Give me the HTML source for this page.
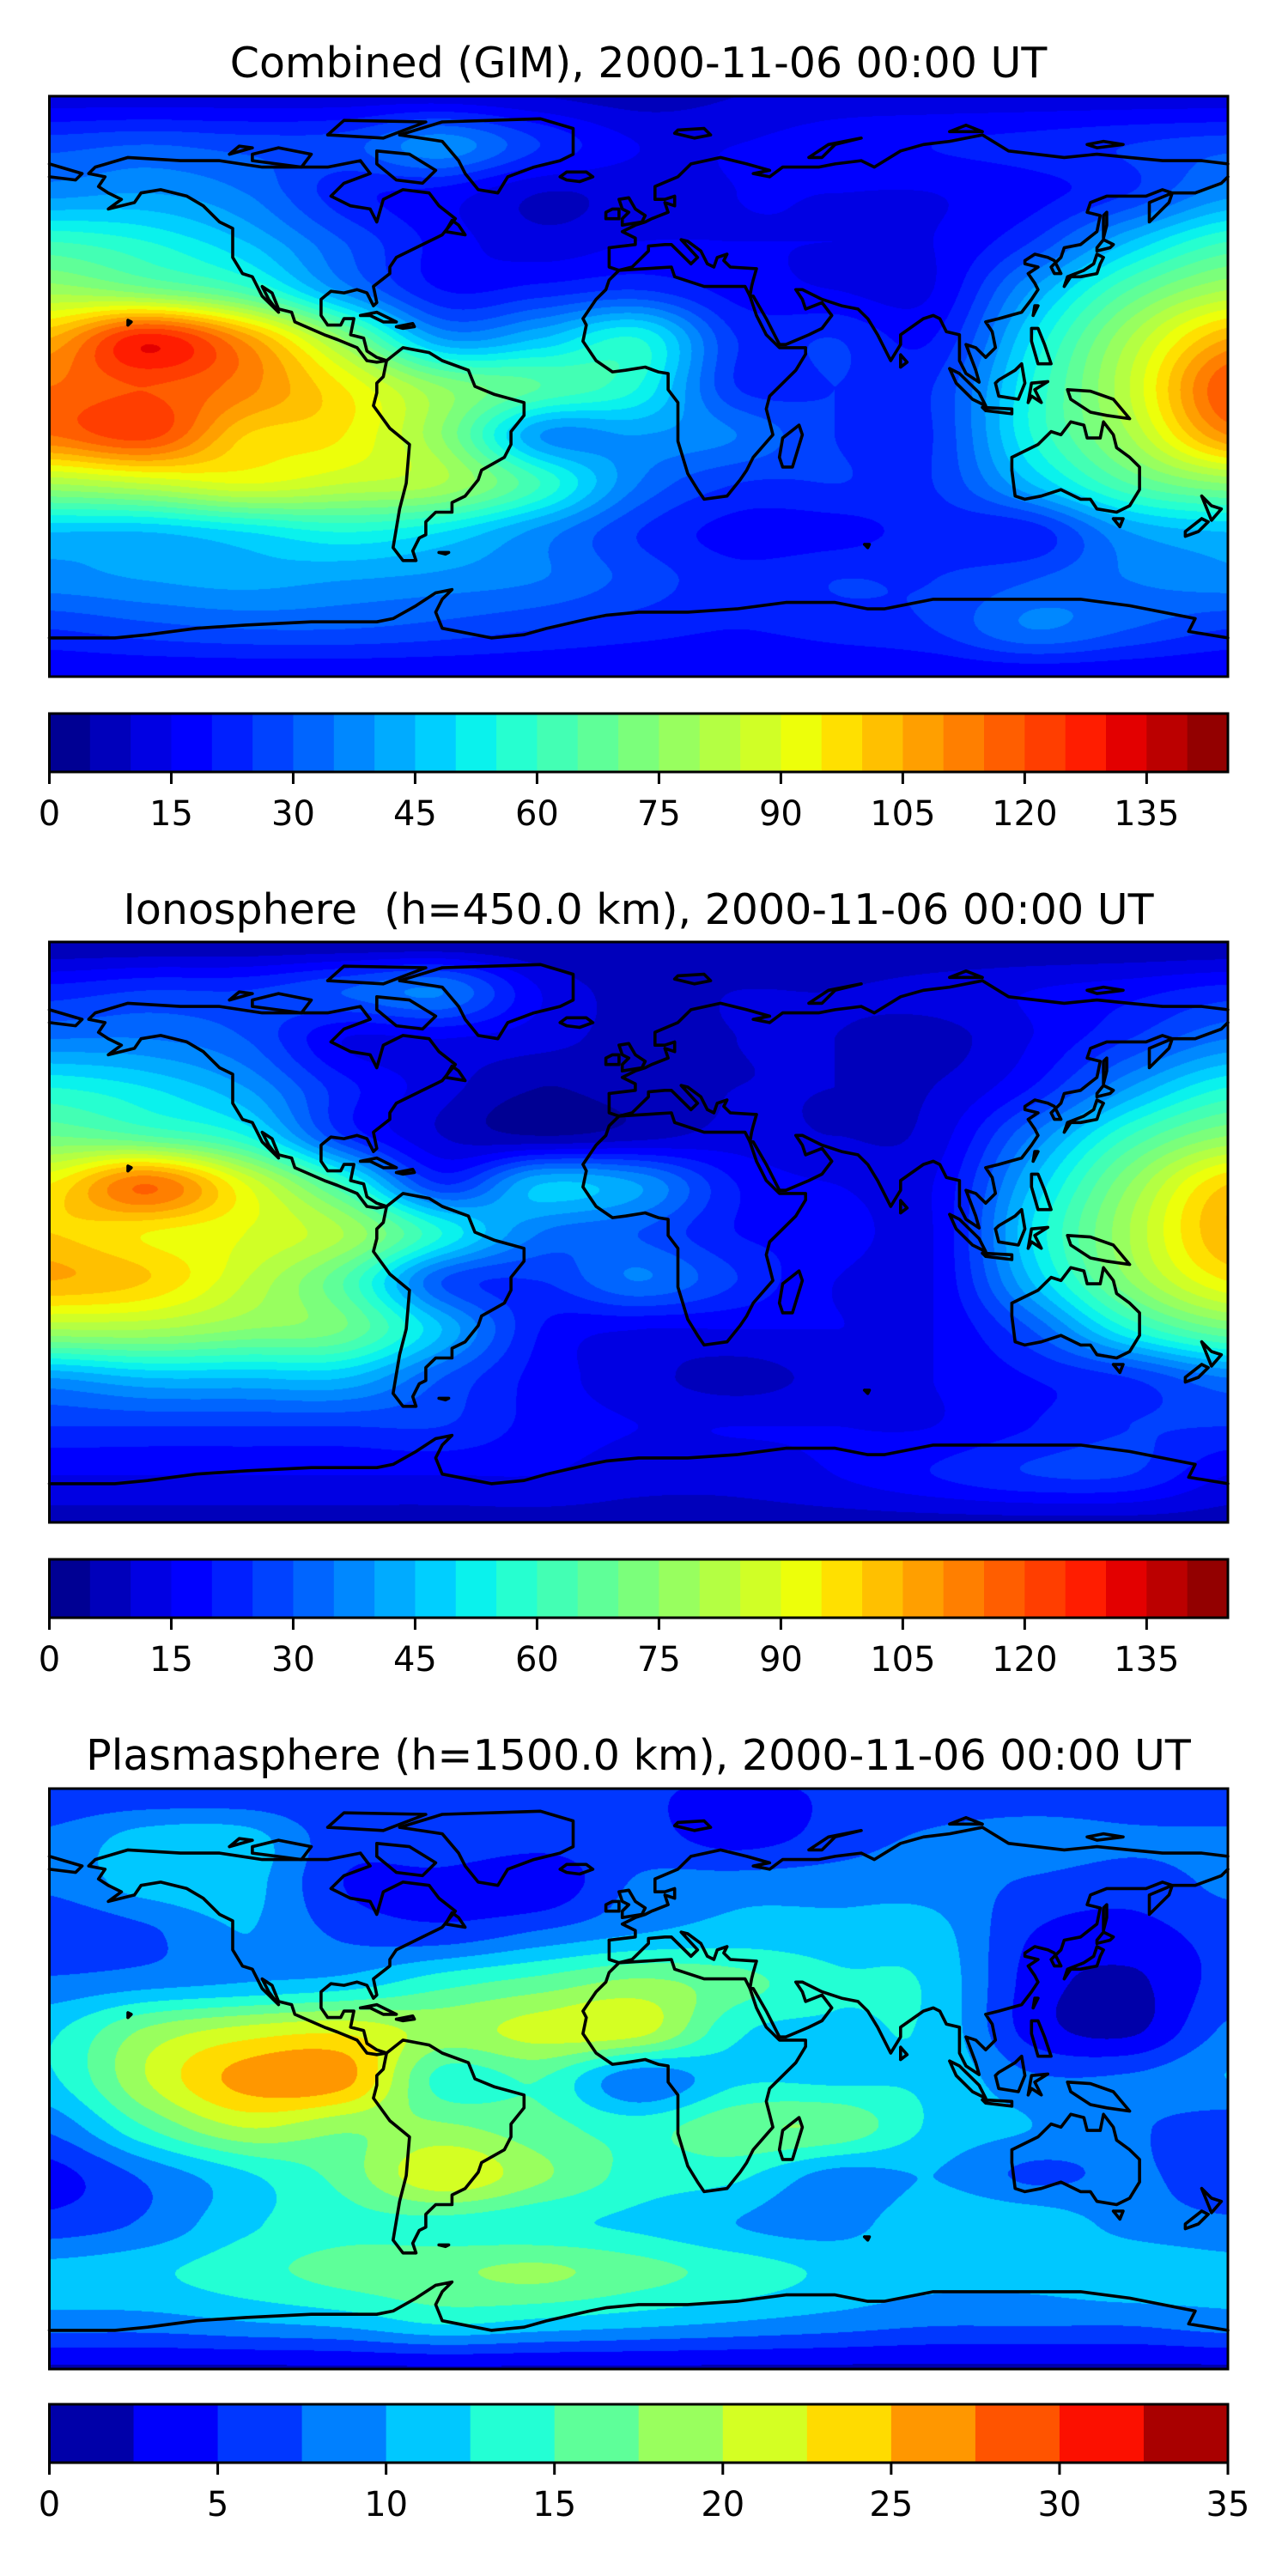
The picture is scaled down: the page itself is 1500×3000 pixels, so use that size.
<!DOCTYPE html>
<html><head><meta charset="utf-8">
<style>
html,body{margin:0;padding:0;background:#fff;}
body{width:1500px;height:3000px;position:relative;overflow:hidden;font-family:"DejaVu Sans","Liberation Sans",sans-serif;}
.title{position:absolute;left:0;width:1487px;text-align:center;font-size:49px;color:#000;line-height:1;white-space:pre;}
canvas{position:absolute;}
svg{position:absolute;left:0;top:0;}
</style></head>
<body>
<div class="title" style="top:49px">Combined (GIM), 2000-11-06 00:00 UT</div>
<div class="title" style="top:1035px">Ionosphere  (h=450.0 km), 2000-11-06 00:00 UT</div>
<div class="title" style="top:2020px">Plasmasphere (h=1500.0 km), 2000-11-06 00:00 UT</div>
<canvas id="c0" width="1373" height="677" style="left:57px;top:112px"></canvas>
<canvas id="c1" width="1373" height="677" style="left:57px;top:1097px"></canvas>
<canvas id="c2" width="1373" height="677" style="left:57px;top:2083px"></canvas>
<svg id="ov" width="1500" height="3000"></svg>
<script>
// grid: lon -180..180 step 30 (13 cols), lat 90..-90 step 15 (13 rows)
const lonGrid=[-180,-150,-120,-90,-60,-30,0,30,60,90,120,150,180];
const latGrid=[90,75,60,45,30,15,0,-15,-30,-45,-60,-75,-90];
const combinedValues=[
[12,12,12,12,12,10,8,10,12,12,12,12,12],
[28,30,28,28,38,25,15,15,18,20,22,25,28],
[38,40,35,22,18,10,12,15,15,15,18,25,38],
[60,55,45,30,18,12,15,15,15,15,25,45,60],
[78,72,62,38,20,22,25,18,15,15,40,65,80],
[105,128,108,75,40,45,55,25,25,20,50,80,105],
[115,120,112,95,75,65,55,25,25,25,55,85,120],
[115,122,100,95,75,40,40,35,25,25,55,80,110],
[80,85,90,85,80,60,35,25,25,25,45,65,75],
[45,45,50,55,50,38,25,18,18,22,22,40,45],
[38,40,42,40,38,35,28,22,25,25,30,35,38],
[25,28,30,30,28,25,22,20,22,25,35,30,25],
[15,15,15,15,15,15,15,15,15,15,15,15,15]];
const ionosphereValues=[
[5,5,5,5,5,5,5,5,5,5,5,5,5],
[22,25,25,30,35,15,8,10,10,12,15,18,22],
[35,35,30,15,15,12,8,10,10,8,15,25,35],
[55,50,40,22,12,5,8,10,10,10,20,40,55],
[70,65,55,25,10,5,8,12,10,12,35,60,75],
[95,115,90,60,25,45,40,20,15,15,45,75,100],
[100,95,90,80,55,35,30,20,18,15,50,80,105],
[105,100,85,65,30,25,35,25,15,15,45,75,95],
[80,80,75,70,45,20,15,15,15,15,30,55,70],
[40,45,45,45,30,18,12,8,12,15,20,25,35],
[25,25,25,25,25,18,15,15,15,15,20,25,25],
[15,15,15,15,15,15,12,12,15,20,25,25,15],
[8,8,8,8,8,8,8,8,8,8,8,8,8]];
const plasmasphereValues=[
[5,5,5,5,5,5,5,5,5,5,5,5,5],
[8,11,11,6,7,6,6,4,6,8,9,8,8],
[8,11,11,5,4,3,8,9,9,9,7,6,8],
[5,7,10,7,6,8,10,11,11,11,5,4,6],
[8,9,10,11,14,16,18,16,13,12,4,2,6],
[12,18,21,22,19,21,21,13,12,12,4,2,8],
[12,20,26,26,14,15,8,12,12,12,8,8,10],
[8,15,20,18,18,16,14,17,17,12,10,8,6],
[4,8,12,16,22,18,14,13,9,10,7,8,6],
[6,8,12,14,14,13,12,10,9,12,12,9,8],
[11,12,14,16,17,18,16,14,12,11,11,12,11],
[9,9,10,11,13,12,11,10,9,8,8,8,9],
[2,2,2,2,2,2,2,2,2,2,2,2,2]];
const levelsTEC=[0,145,5];
const levelsPlasma=[0,35,2.5];
const ticksTEC=[0,15,30,45,60,75,90,105,120,135];
const ticksPlasma=[0,5,10,15,20,25,30,35];

const MX=57.5,MW=1372.5,MH=676;
const mapTops=[112,1097,2083];
const cbarTops=[831,1816,2800];
const CBH=68;

function seg(x,pts){for(let i=0;i<pts.length-1;i++){const a=pts[i],b=pts[i+1];if(x<=b[0]){return a[1]+(b[1]-a[1])*(x-a[0])/(b[0]-a[0]);}}return pts[pts.length-1][1];}
function jet(x){x=Math.max(0,Math.min(1,x));
 const r=seg(x,[[0,0],[0.35,0],[0.66,1],[0.89,1],[1,0.5]]);
 const g=seg(x,[[0,0],[0.125,0],[0.375,1],[0.64,1],[0.91,0],[1,0]]);
 const b=seg(x,[[0,0.5],[0.11,1],[0.34,1],[0.65,0],[1,0]]);
 return [Math.round(r*255),Math.round(g*255),Math.round(b*255)];}
function binColors(lv){const n=Math.round((lv[1]-lv[0])/lv[2]);const out=[];for(let i=0;i<n;i++){out.push(jet((i+0.5)/n));}return out;}

function cr(p0,p1,p2,p3,t){return 0.5*((2*p1)+(-p0+p2)*t+(2*p0-5*p1+4*p2-p3)*t*t+(-p0+3*p1-3*p2+p3)*t*t*t);}
function sample(G,fx,fy){const R=G.length,C=G[0].length;
 const ix=Math.floor(fx),iy=Math.floor(fy);const tx=fx-ix,ty=fy-iy;
 const cl=(v,m)=>Math.max(0,Math.min(m-1,v));
 const rows=[];for(let j=-1;j<=2;j++){const rr=G[cl(iy+j,R)];
  rows.push(cr(rr[cl(ix-1,C)],rr[cl(ix,C)],rr[cl(ix+1,C)],rr[cl(ix+2,C)],tx));}
 return cr(rows[0],rows[1],rows[2],rows[3],ty);}

function drawMap(id,G,lv){const cv=document.getElementById(id);const ctx=cv.getContext('2d');
 const W=cv.width,H=cv.height;const img=ctx.createImageData(W,H);const cols=binColors(lv);const n=cols.length;
 for(let y=0;y<H;y++){const lat=90-(y+0.5)/H*180;const fy=(90-lat)/15;
  for(let x=0;x<W;x++){const lon=-180+(x+0.5)/W*360;const fx=(lon+180)/30;
   const v=sample(G,fx,fy);let k=Math.floor((v-lv[0])/lv[2]);k=Math.max(0,Math.min(n-1,k));
   const c=cols[k];const o=(y*W+x)*4;img.data[o]=c[0];img.data[o+1]=c[1];img.data[o+2]=c[2];img.data[o+3]=255;}}
 ctx.putImageData(img,0,0);}
drawMap('c0',combinedValues,levelsTEC);
drawMap('c1',ionosphereValues,levelsTEC);
drawMap('c2',plasmasphereValues,levelsPlasma);

const coasts={
'north-america':[[-166,68],[-156,71],[-140,70],[-128,70],[-115,68],[-95,68],[-85,70],[-82,66],[-90,63],[-94,59],[-88,56],[-82,55],[-80,51],[-78,58],[-72,61],[-64,60],[-61,56],[-56,52],[-60,47],[-66,44],[-70,42],[-74,40],[-76,37],[-76,35],[-81,31],[-80,26],[-81,25],[-83,29],[-86,30],[-90,29],[-94,29.5],[-97,27],[-97,22],[-95,19],[-91,19],[-90,21],[-87,21],[-88,16],[-84,15],[-83,11],[-80,9],[-77,8],[-80,7.5],[-83,8],[-86,12],[-92,14.5],[-96,16],[-105,20],[-106,23],[-110,24],[-112,29],[-115,31],[-113,27],[-110,23],[-115,28],[-118,34],[-121,35],[-124,40],[-124,46],[-124,49],[-128,51],[-133,56],[-138,59],[-146,61],[-152,60],[-154,57],[-162,55],[-158,58],[-162,60],[-165,62],[-163,65],[-168,66],[-166,68]],
'south-america':[[-77,8],[-72,12],[-64,10.5],[-60,8],[-52,5],[-50,0],[-44,-2.5],[-35,-5],[-35,-9],[-39,-14],[-39,-18],[-41,-22],[-48,-26],[-49,-29],[-53,-34],[-57,-36],[-57,-39],[-62,-39],[-65,-42],[-65,-46],[-67,-47],[-69,-51],[-68,-54],[-72,-54],[-75,-50],[-74,-44],[-73,-38],[-71,-30],[-70,-18],[-76,-13],[-81,-6],[-80,-2],[-80,1],[-78,3],[-77,8]],
'greenland':[[-73,78],[-60,82],[-30,83],[-20,80],[-20,72],[-24,70],[-32,68],[-40,65],[-43,60],[-49,61],[-53,66],[-55,70],[-60,76],[-73,78]],
'eurasia':[[-9,43],[-9,37],[-6,36],[-2,37],[0,39],[3,42],[3,43.5],[8,44],[10,44],[12,42],[16,38],[18,40],[13,45.5],[15,45],[19,42],[21,38],[23,37],[24,40],[27,41],[26,39],[28,37],[36,36.5],[35,33],[34.5,31],[34,28],[35,28],[39,21],[43,13],[45,13],[52,16],[56,18],[59,22],[56,26],[51,24],[50,27],[48,30],[50,30],[56,27],[62,25],[67,24],[70,21],[73,16],[77,8],[80,13],[80,16],[87,21],[90,22],[92,21],[94,17],[98,16],[98,8],[100,4],[104,1.3],[103,5],[100,13],[103,12],[106,9],[109,12],[108,17],[106,20],[110,21],[117,23],[120,27],[122,30],[121,32],[119,35],[122,37],[118,38],[118,39],[121,41],[125,40],[127,39],[129,35],[127,35],[126,37],[129,40],[130,43],[135,44],[140,48],[141,53],[137,54],[138,57],[143,59],[150,59],[155,59],[160,61],[163,60],[156,57],[156,51],[162,57],[163,60],[170,60],[178,63],[180,65]],
'siberia-north':[[180,69],[172,70],[160,70],[150,71],[140,72],[130,71],[113,73],[105,78],[95,76],[87,75],[80,73],[72,68],[68,70],[60,69],[55,68],[44,68],[40,65],[35,66],[40,67],[33,69],[25,71],[16,69],[12,65],[5,62],[5,58],[8,58],[11,59],[11,56],[8,57],[9,54],[4,52],[2,51],[-1,50],[-5,48],[-1,46],[-1,44],[-9,43]],
'chukotka':[[-180,65],[-172,64],[-170,66],[-180,69]],
'africa':[[-6,36],[10,37],[11,34],[20,31],[30,31],[32.5,31],[34,28],[36,22],[39,16],[43,12],[51,12],[51,10],[48,5],[40,-3],[39,-7],[40,-11],[41,-15],[35,-22],[33,-26],[31,-29],[27,-34],[20,-35],[18,-32],[15,-27],[12,-17],[12,-5],[9,-1],[9,4],[6,4.5],[2,6],[-4,5],[-8,4.5],[-13,8],[-17,14],[-16,19],[-17,21],[-13,27],[-10,30],[-9,33],[-6,36]],
'australia':[[114,-22],[114,-26],[115,-34],[118,-35],[123,-34],[129,-32],[135,-35],[138,-35],[140,-38],[146,-39],[150,-37],[153,-32],[153,-25],[150,-22],[146,-19],[145,-15],[142,-11],[141,-16],[137,-16],[136,-12],[132,-11],[129,-15],[126,-14],[122,-18],[114,-22]],
'antarctica':[[-180,-78],[-160,-78],[-150,-77],[-135,-75],[-120,-74],[-100,-73],[-80,-73],[-75,-72],[-68,-68],[-62,-64],[-57,-63],[-60,-66],[-62,-70],[-60,-75],[-45,-78],[-35,-77],[-28,-75],[-15,-72],[-10,-71],[0,-70],[15,-70],[30,-69],[45,-67],[60,-67],[70,-69],[75,-69],[90,-66],[105,-66],[120,-66],[135,-66],[150,-68],[160,-70],[165,-71],[170,-72],[168,-76],[180,-78]],
'great-britain':[[-5,50],[1,51],[2,53],[-1,55],[-3,58.5],[-6,58],[-5,55],[-3,54],[-5,52],[-5,50]],
'ireland':[[-10,52],[-6,52],[-6,55],[-8,55],[-10,54],[-10,52]],
'iceland':[[-24,65],[-22,66.5],[-16,66.5],[-14,65],[-18,63.5],[-22,64],[-24,65]],
'honshu':[[130,31],[132,34],[135,34],[140,35],[141,38],[142,40],[140,41],[139,38],[136,36],[131,34],[130,31]],
'hokkaido':[[140,42],[144,43],[145,44],[142,45.5],[140,43],[140,42]],
'sakhalin':[[142,46],[143,50],[143,54],[142,53],[142,46]],
'madagascar':[[44,-25],[47,-25],[50,-15],[49,-12],[44,-16],[43,-22],[44,-25]],
'nz-north':[[172,-34],[175,-37],[178,-38],[175,-41.5],[174,-39],[172,-34]],
'nz-south':[[172,-41],[174,-42],[171,-45],[167,-46.5],[167,-45],[172,-41]],
'sumatra':[[95,5.5],[98,4],[104,-2],[106,-6],[102,-4],[97,1],[95,5.5]],
'borneo':[[109,1],[110,-3],[116,-4],[118,1],[117,7],[115,5],[110,2],[109,1]],
'java':[[105,-6.5],[114,-7],[114,-8.5],[106,-7.5],[105,-6.5]],
'sulawesi':[[119,-5],[120,1],[125,1.5],[121,-1],[123,-5],[120,-3],[119,-5]],
'new-guinea':[[131,-1],[138,-1.5],[145,-4],[150,-10],[143,-9],[138,-8],[132,-4],[131,-1]],
'philippines':[[120,18],[122,18],[124,13],[126,7],[122,7],[120,14],[120,18]],
'taiwan':[[120.5,22],[122,25],[121,25],[120.5,22]],
'sri-lanka':[[80,6],[82,7.5],[80,9.8],[80,6]],
'cuba':[[-85,22],[-80,23],[-74,20],[-78,20],[-82,22],[-85,22]],
'hispaniola':[[-74,18.5],[-69,19.5],[-68.5,18.5],[-72,18],[-74,18.5]],
'baffin':[[-80,73],[-70,72],[-62,67],[-66,63],[-74,64],[-80,69],[-80,73]],
'ellesmere':[[-95,78],[-78,77],[-65,82],[-90,82.5],[-95,78]],
'victoria-isl':[[-118,70],[-103,68],[-100,72],[-110,74],[-118,72],[-118,70]],
'banks-isl':[[-125,72],[-118,74],[-122,74.5],[-125,72]],
'svalbard':[[11,78.5],[17,77],[22,78],[20,80],[12,79.5],[11,78.5]],
'novaya-zemlya':[[52,71],[56,71],[60,75],[68,77],[58,75],[52,71]],
'severnaya':[[95,79],[105,79],[100,81],[95,79]],
'new-siberian':[[137,75],[142,76],[148,75],[140,74],[137,75]],
'newfoundland':[[-59,48],[-53,47],[-55,50],[-57,51.5],[-59,48]],
'hawaii':[[-156,19],[-155,20],[-156,20.5],[-156,19]],
'tasmania':[[145,-41],[148,-41],[147,-43.5],[145,-41]],
'falklands':[[-61,-51.5],[-58,-51.5],[-59,-52],[-61,-51.5]],
'kerguelen':[[69,-49],[70.5,-49],[70,-50],[69,-49]]
};
const ov=document.getElementById('ov');
const NS='http://www.w3.org/2000/svg';
function mk(tag,attrs){const e=document.createElementNS(NS,tag);for(const k in attrs)e.setAttribute(k,attrs[k]);return e;}
function px(lon){return MX+(lon+180)/360*MW;}
function py(top,lat){return top+(90-lat)/180*MH;}
mapTops.forEach((top,mi)=>{
 const g=mk('g',{});
 
 
 for(const name in coasts){const pts=coasts[name].map(p=>px(p[0]).toFixed(1)+','+py(top,p[1]).toFixed(1)).join(' ');
  const pl=mk('polyline',{points:pts,fill:'none',stroke:'#000','stroke-width':3.6,'stroke-linejoin':'round','stroke-linecap':'round'});
  
  
  g.appendChild(pl);}
 ov.appendChild(g);
 const fr=mk('rect',{x:MX,y:top,width:MW,height:MH,fill:'none',stroke:'#000','stroke-width':3});
 
 
 ov.appendChild(fr);
 // colorbar
 const lv=mi<2?levelsTEC:levelsPlasma;const ticks=mi<2?ticksTEC:ticksPlasma;
 const cols=binColors(lv);const ct=cbarTops[mi];
 const sx=v=>MX+(v-lv[0])/(lv[1]-lv[0])*MW;
 const cg=mk('g',{});
 
 
 cols.forEach((c,i)=>{const a=lv[0]+i*lv[2];
  const r=mk('rect',{x:sx(a),y:ct,width:sx(a+lv[2])-sx(a)+0.6,height:CBH,fill:'rgb('+c.join(',')+')'});
  
  
  cg.appendChild(r);});
 const cf=mk('rect',{x:MX,y:ct,width:MW,height:CBH,fill:'none',stroke:'#000','stroke-width':3});
 
 
 cg.appendChild(cf);
 ticks.forEach(t=>{const x=sx(t);
  const l=mk('line',{x1:x,x2:x,y1:ct+CBH,y2:ct+CBH+14,stroke:'#000','stroke-width':3});
  
  
  cg.appendChild(l);
  const tx=mk('text',{x:x,y:ct+CBH+62,'text-anchor':'middle','font-size':40,'font-family':'DejaVu Sans, Liberation Sans, sans-serif',fill:'#000'});
  tx.textContent=String(t);
  
  
  cg.appendChild(tx);});
 ov.appendChild(cg);
});
</script>
</body></html>
